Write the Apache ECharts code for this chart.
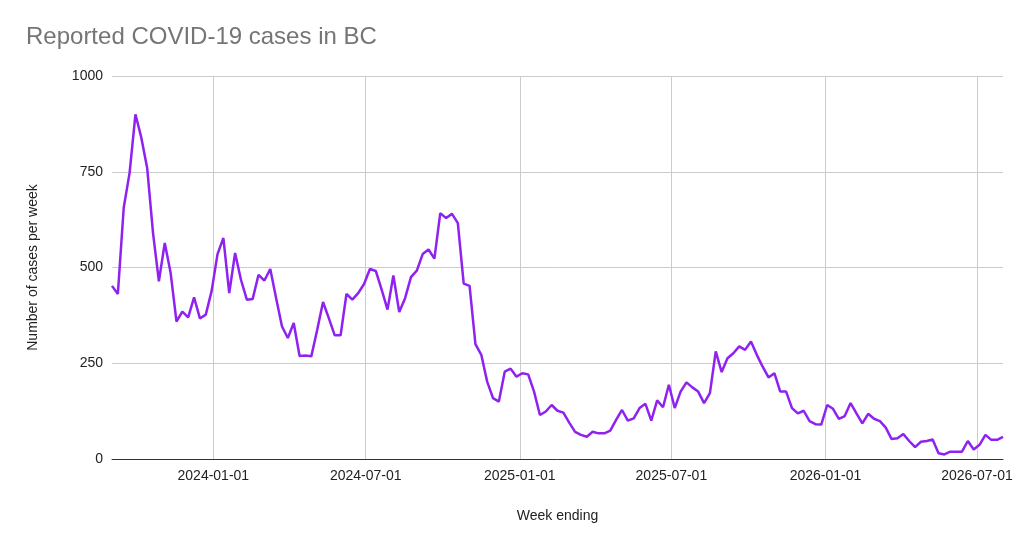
<!DOCTYPE html>
<html>
<head>
<meta charset="utf-8">
<script src="https://cdn.jsdelivr.net/npm/echarts@6/dist/echarts.min.js"></script>
<style>
html,body{margin:0;padding:0;background:#fff;}
#chart{width:1024px;height:546px;}
</style>
</head>
<body>
<div id="chart"></div>
<script>
// Week-ending dates: weekly (Saturdays) from first to last week
const firstWeekEnding = '2023-09-02';
const lastWeekEnding = '2026-08-01';
const xTickDates = ['2024-01-01', '2024-07-01', '2025-01-01', '2025-07-01', '2026-01-01', '2026-07-01'];

// Weekly reported cases
const cases2023to2024 = [
  452, 431, 656, 747, 900, 839, 760, 590, 464, 564,
  486, 359, 385, 370, 422, 367, 377, 439, 535, 577,
  433, 538, 468, 416, 418, 481, 466, 496, 420, 346,
  316, 355, 269, 270, 268, 337, 410, 367, 323, 323,
  431, 416, 433, 457, 496, 491, 442, 390, 479, 384
];
const cases2024to2025 = [
  420, 475, 492, 535, 547, 523, 642, 629, 640, 616,
  458, 452, 300, 272, 202, 159, 150, 228, 236, 215,
  224, 221, 176, 115, 124, 141, 126, 121, 95, 71,
  63, 58, 71, 67, 67, 74, 102, 128, 100, 106,
  133, 144, 100, 153, 135, 194, 133
];
const cases2025to2026 = [
  176, 200, 187, 176, 146, 172, 281, 227, 263, 276,
  294, 285, 307, 272, 241, 213, 224, 176, 176, 133,
  119, 126, 99, 91, 90, 141, 131, 105, 112, 146,
  119, 93, 118, 105, 99, 82, 52, 54, 65, 47,
  31, 45, 47, 51, 15, 12, 19, 19, 19, 47,
  25, 37, 63, 50, 50, 58
];
const yTicks = [0, 250, 500, 750, 1000];

const weeklyCases = cases2023to2024.concat(cases2024to2025, cases2025to2026);

function pad(n){ return String(n).padStart(2,'0'); }
function parseDate(s) { const p = s.split('-').map(Number); return Date.UTC(p[0], p[1] - 1, p[2]); }
function fmtDate(t) { const d = new Date(t); return d.getUTCFullYear() + '-' + pad(d.getUTCMonth() + 1) + '-' + pad(d.getUTCDate()); }

const DAY = 24 * 3600 * 1000;
const firstT = parseDate(firstWeekEnding);
const weekEnding = weeklyCases.map((_, i) => firstT + 7 * DAY * i);
const seriesData = weekEnding.map((t, i) => [t, weeklyCases[i]]);
const xTickValues = xTickDates.map(parseDate);

const chart = echarts.init(document.getElementById('chart'), null, {renderer: 'canvas'});
chart.setOption({
  animation: false,
  backgroundColor: '#ffffff',
  textStyle: { fontFamily: 'Liberation Sans, Arial, sans-serif' },
  title: {
    text: 'Reported COVID-19 cases in BC',
    left: 21,
    top: 20,
    textStyle: { color: '#757575', fontSize: 24, fontWeight: 'normal', fontFamily: 'Liberation Sans, Arial, sans-serif' }
  },
  grid: { left: 112, right: 21, top: 76, bottom: 87, containLabel: false },
  xAxis: {
    type: 'value',
    min: firstT,
    max: parseDate(lastWeekEnding),
    name: 'Week ending',
    nameLocation: 'middle',
    nameGap: 50,
    nameTextStyle: { color: '#222', fontSize: 14 },
    axisLine: { show: true, lineStyle: { color: '#333', width: 1 } },
    axisTick: { show: false, customValues: xTickValues },
    axisLabel: {
      color: '#222', fontSize: 14, margin: 10,
      customValues: xTickValues,
      formatter: function (v) { return fmtDate(v); }
    },
    splitLine: { show: false }
  },
  yAxis: {
    type: 'value',
    min: yTicks[0],
    max: yTicks[yTicks.length - 1],
    interval: 250,
    name: 'Number of cases per week',
    nameLocation: 'middle',
    nameRotate: 90,
    nameGap: 72,
    nameTextStyle: { color: '#222', fontSize: 14 },
    axisLine: { show: false },
    axisTick: { show: false },
    axisLabel: { color: '#222', fontSize: 14, margin: 9, formatter: function (v) { return String(v); } },
    splitLine: { show: true, lineStyle: { color: '#cccccc', width: 1 } }
  },
  series: [{
    type: 'line',
    data: seriesData,
    showSymbol: false,
    symbol: 'none',
    lineStyle: { color: '#8f22f0', width: 2.5 },
    itemStyle: { color: '#8f22f0' },
    z: 3,
    markLine: {
      silent: true,
      symbol: 'none',
      label: { show: false },
      lineStyle: { color: '#cccccc', width: 1, type: 'solid' },
      emphasis: { disabled: true },
      z: 1,
      data: xTickValues.map(t => ({ xAxis: t }))
    }
  }]
});
</script>
</body>
</html>
